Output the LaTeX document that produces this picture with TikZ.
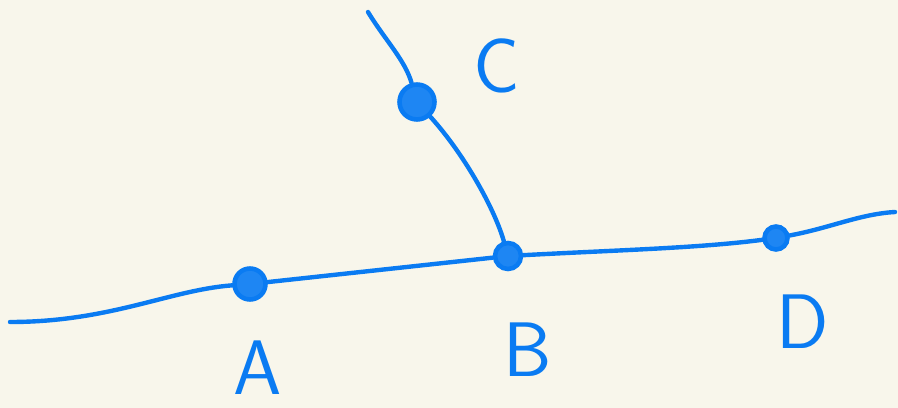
\documentclass[tikz,border=0pt]{standalone}
\usepackage{tikz}
\usetikzlibrary{positioning}
\definecolor{paper}{HTML}{F8F6EB}
\definecolor{ink}{HTML}{0A7BF2}
\begin{document}
\begin{tikzpicture}[
  x=0.02cm, y=-0.02cm,
  dot/.style={circle, draw=ink, fill=ink!92, line width=2.6pt, inner sep=0pt},
  lbl/.style={text=ink, font=\sffamily\fontsize{44}{48}\selectfont},
  pen/.style={draw=ink, line width=2.5pt, line cap=round}
]
\useasboundingbox[fill=paper] (0,0) rectangle (898,408);
\node[dot, minimum size=7mm] (C) at (417,102) {};
\node[dot, minimum size=6.2mm] (A) at (250,284) {};
\node[dot, minimum size=5.2mm] (B) at (508,256) {};
\node[dot, minimum size=4.6mm] (D) at (776,238) {};
\coordinate (left) at (10,322);
\coordinate (right) at (895,212);
\coordinate (top) at (368,12);
\node[lbl] (labA) at (258,368) {A};
\node[lbl] (labB) at (528,350) {B};
\node[lbl] (labC) at (497,66) {C};
\node[lbl] (labD) at (803,322) {D};
\draw[pen] (left) .. controls (110,322) and (170,290) .. (A);
\draw[pen] (A) -- (B);
\draw[pen] (B) .. controls (620,250) and (700,248) .. (D);
\draw[pen] (D) .. controls (830,228) and (860,214) .. (right);
\draw[pen] (top) .. controls (385,40) and (405,60) .. (C);
\draw[pen] (C) .. controls (465,155) and (495,210) .. (B);
\end{tikzpicture}
\end{document}
